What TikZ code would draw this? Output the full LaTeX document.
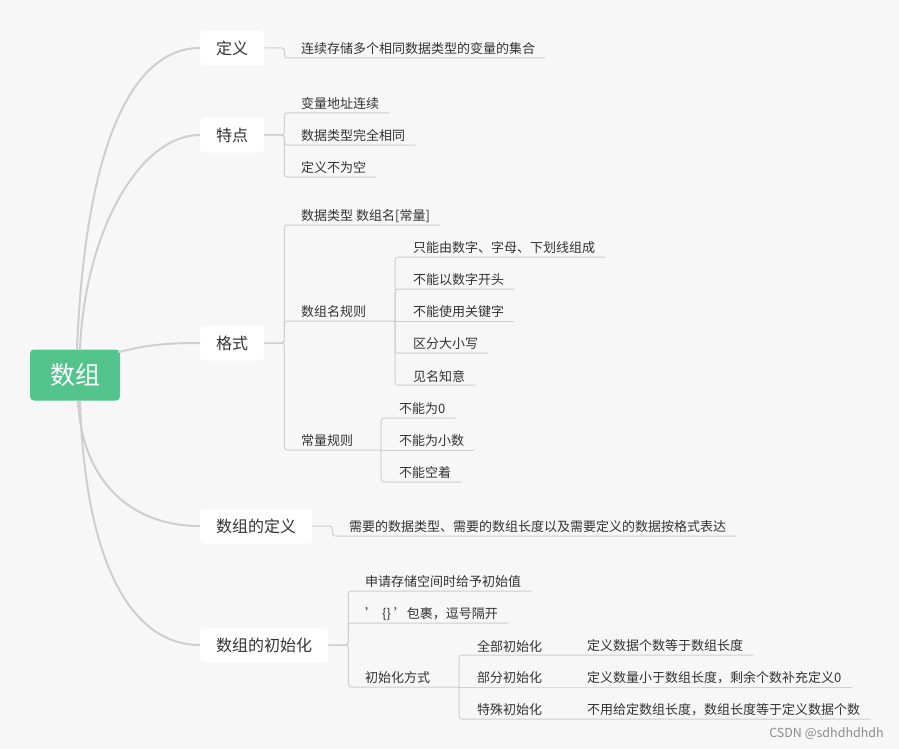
\documentclass[tikz,border=0pt]{standalone}
\usepackage{fontspec}
\setmainfont{Noto Sans CJK SC}
\usepackage{xcolor}
\usepackage{tikz}
\usetikzlibrary{positioning}
\definecolor{bgc}{HTML}{F7F7F7}
\definecolor{rootc}{HTML}{52C48C}
\definecolor{linec}{HTML}{CFCFCF}
\definecolor{txtc}{HTML}{333333}

\begin{document}
\begin{tikzpicture}[x=1pt, y=-1pt,
  root/.style={fill=rootc, rounded corners=4pt, text=white, minimum width=90pt,
    minimum height=51pt, font=\fontsize{25}{28}\selectfont},
  topic/.style={fill=white, rounded corners=4pt, anchor=west, minimum height=35pt,
    inner xsep=16pt, text=txtc, font=\fontsize{16}{18}\selectfont},
  leaf/.style={anchor=west, inner sep=0pt, yshift=-1pt, text=txtc,
    font=\fontsize{13}{15}\selectfont},
  trunk/.style={draw=linec, line width=2pt},
  branch/.style={draw=linec, line width=1pt, rounded corners=3pt},
  uline/.style={xshift=10pt, yshift=-9pt},
]
\useasboundingbox[fill=bgc] (0,0) rectangle (899,749);

\node[root] (root) at (75,375) {数组};
\node[topic] (dy) at (200,48) {定义};
\node[topic] (td) at (200,135) {特点};
\node[topic] (gs) at (200,343) {格式};
\node[topic] (sd) at (200,526) {数组的定义};
\node[topic] (cs) at (200,645) {数组的初始化};

\node[leaf] (dy1) at (301,48) {连续存储多个相同数据类型的变量的集合};

\node[leaf] (td1) at (301,103) {变量地址连续};
\node[leaf] (td2) at (301,135) {数据类型完全相同};
\node[leaf] (td3) at (301,167) {定义不为空};

\node[leaf] (gs1) at (301,215) {数据类型 数组名[常量]};
\node[leaf] (gs2) at (301,311) {数组名规则};
\node[leaf] (gs3) at (301,440) {常量规则};
\coordinate (gmj) at (395,321);
\coordinate (gcj) at (381,450);
\node[leaf] (gm1) at (413,247) {只能由数字、字母、下划线组成};
\node[leaf] (gm2) at (413,279) {不能以数字开头};
\node[leaf] (gm3) at (413,311) {不能使用关键字};
\node[leaf] (gm4) at (413,343) {区分大小写};
\node[leaf] (gm5) at (413,375) {见名知意};
\node[leaf] (gc1) at (399,408) {不能为0};
\node[leaf] (gc2) at (399,440) {不能为小数};
\node[leaf] (gc3) at (399,472) {不能空着};

\node[leaf] (sd1) at (349,526) {需要的数据类型、需要的数组长度以及需要定义的数据按格式表达};

\node[leaf] (cs1) at (365,581) {申请存储空间时给予初始值};
\node[leaf] (cs2) at (365,613) {\symbol{39}\hspace{4pt}\{\}\hspace{3pt}\symbol{39}包裹，逗号隔开};
\node[leaf] (cs3) at (365,677) {初始化方式};
\coordinate (cj) at (459,687);
\node[leaf] (qb) at (477,645) {全部初始化};
\node[leaf] (bf) at (477,677) {部分初始化};
\node[leaf] (ts) at (477,709) {特殊初始化};
\node[leaf] (qb1) at (587,645) {定义数据个数等于数组长度};
\node[leaf] (bf1) at (587,677) {定义数量小于数组长度，剩余个数补充定义0};
\node[leaf] (ts1) at (587,709) {不用给定数组长度，数组长度等于定义数据个数};

\node[anchor=east, inner sep=0pt, text=black!45, font=\fontsize{12.5}{14}\selectfont]
  (wm) at (884,734) {CSDN @sdhdhdhdh};

\draw[trunk] ([xshift=2pt]root.north) .. controls +(8,-199) and +(-70,0) .. (dy.west);
\draw[trunk] ([xshift=5pt]root.north) .. controls +(5,-119) and +(-60,0) .. (td.west);
\draw[trunk] ([xshift=-2pt,yshift=-3pt]root.north east) .. controls +(30,-8) and +(-30,0) .. (gs.west);
\draw[trunk] ([xshift=3pt]root.south) .. controls +(4,80) and +(-70,0) .. (sd.west);
\draw[trunk] ([xshift=5pt]root.south) .. controls +(5,160) and +(-70,0) .. (cs.west);

\draw[branch] (dy.east) -- ++(20,0) |- ([uline]dy1.east);

\draw[branch] (td.east) -- ++(20,0) |- ([uline]td1.east);
\draw[branch] (td.east) -- ++(20,0) |- ([uline]td2.east);
\draw[branch] (td.east) -- ++(20,0) |- ([uline]td3.east);

\draw[branch] (gs.east) -- ++(20,0) |- ([uline]gs1.east);
\draw[branch] (gs.east) -- ++(20,0) |- (gmj);
\draw[branch] (gs.east) -- ++(20,0) |- (gcj);
\draw[branch] (gmj) |- ([uline]gm1.east);
\draw[branch] (gmj) |- ([uline]gm2.east);
\draw[branch] (gmj) -- ([uline]gm3.east);
\draw[branch] (gmj) |- ([uline]gm4.east);
\draw[branch] (gmj) |- ([uline]gm5.east);
\draw[branch] (gcj) |- ([uline]gc1.east);
\draw[branch] (gcj) -- ([uline]gc2.east);
\draw[branch] (gcj) |- ([uline]gc3.east);

\draw[branch] (sd.east) -- ++(20,0) |- ([uline]sd1.east);

\draw[branch] (cs.east) -- ++(20,0) |- ([uline]cs1.east);
\draw[branch] (cs.east) -- ++(20,0) |- ([uline]cs2.east);
\draw[branch] (cs.east) -- ++(20,0) |- (cj);
\draw[branch] (cj) |- ([uline]qb.east) -- ([uline]qb1.east);
\draw[branch] (cj) -- ([uline]bf.east) -- ([uline]bf1.east);
\draw[branch] (cj) |- ([uline]ts.east) -- ([uline]ts1.east);
\end{tikzpicture}
\end{document}
